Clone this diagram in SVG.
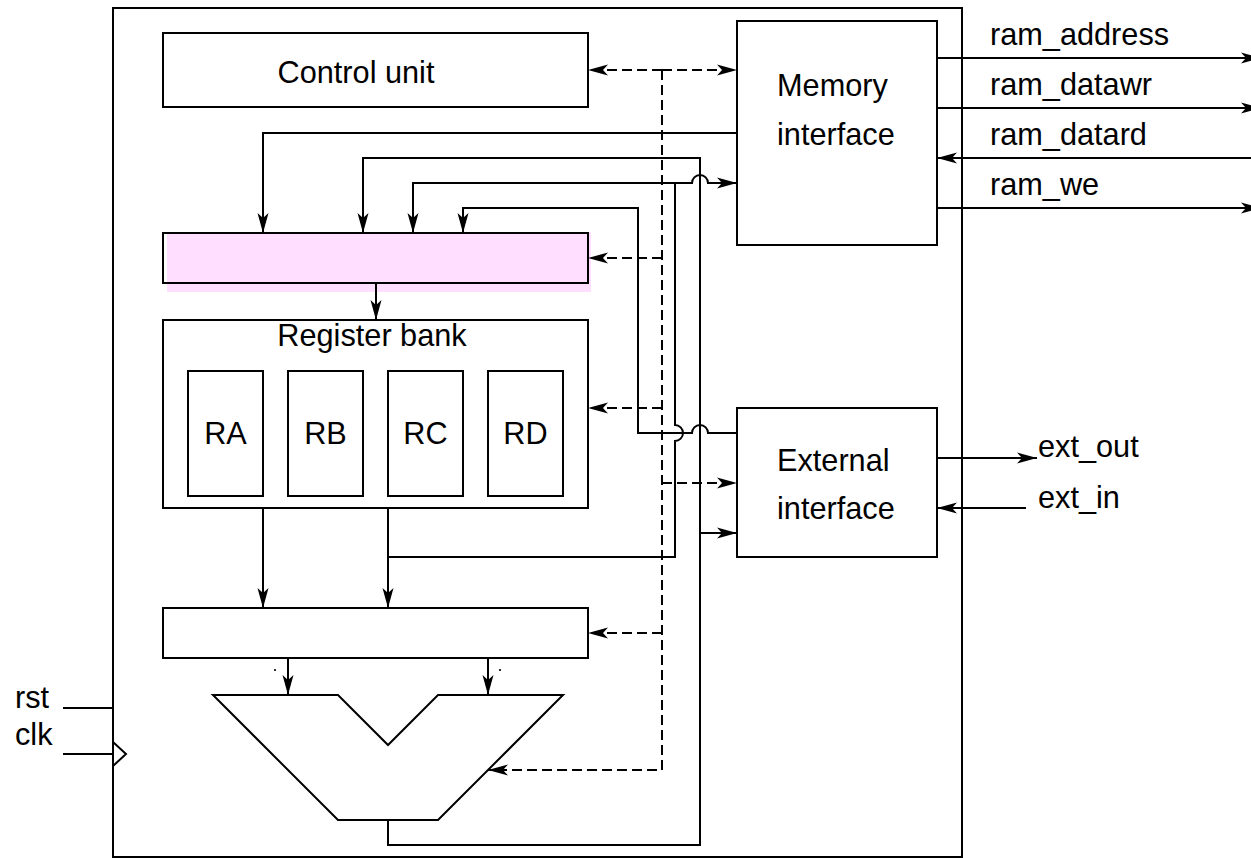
<svg xmlns="http://www.w3.org/2000/svg" width="1251" height="858" viewBox="0 0 1251 858">
<defs>
<marker id="ah" viewBox="0 0 20 12" refX="20" refY="6" markerWidth="20" markerHeight="12" orient="auto" markerUnits="userSpaceOnUse">
<path d="M0,0.5 L20,6 L0,11.5 L5,6 Z" fill="#000"/>
</marker>
</defs>
<style>
.box{fill:#fff;stroke:#000;stroke-width:2}
.nb{fill:none;stroke:#000;stroke-width:2}
.w{fill:none;stroke:#000;stroke-width:2}
.d{fill:none;stroke:#000;stroke-width:2;stroke-dasharray:10 5}
.a{marker-end:url(#ah)}
text{font-family:"Liberation Sans",Arial,Helvetica,sans-serif;font-size:30.7px;fill:#000}
.m{text-anchor:middle}
</style>
<rect width="1251" height="858" fill="#fff"/>

<g id="cpu"><rect class="box" x="113" y="8" width="849" height="849"/></g>

<g id="control-unit"><rect class="box" x="163" y="33" width="425" height="74"/><text class="m" x="356" y="83">Control unit</text></g>

<g id="memory-interface"><rect class="box" x="737" y="21" width="200" height="224"/><text x="777" y="96">Memory</text><text x="777" y="145">interface</text></g>

<g id="input-mux"><rect x="167" y="232" width="424" height="60" fill="#ffdeff"/><rect class="nb" x="163" y="233" width="425" height="50"/></g>

<g id="register-bank"><rect class="box" x="163" y="320" width="425" height="188"/><text class="m" x="372" y="346">Register bank</text>
<g id="RA"><rect class="box" x="188" y="371" width="75" height="125"/><text class="m" x="225.5" y="444">RA</text></g>
<g id="RB"><rect class="box" x="288" y="371" width="75" height="125"/><text class="m" x="325.5" y="444">RB</text></g>
<g id="RC"><rect class="box" x="388" y="371" width="75" height="125"/><text class="m" x="425.5" y="444">RC</text></g>
<g id="RD"><rect class="box" x="488" y="371" width="75" height="125"/><text class="m" x="525.5" y="444">RD</text></g>
</g>

<g id="alu-mux"><rect class="box" x="163" y="608" width="425" height="50"/></g>

<g id="alu"><polygon class="box" points="213,695 338,695 388,745 438,695 563,695 438,820 338,820 213,695"/><circle cx="275" cy="670" r="1.1" fill="#000"/><circle cx="500" cy="670" r="1.1" fill="#000"/></g>

<g id="external-interface"><rect class="box" x="737" y="408" width="200" height="149"/><text x="777" y="471">External</text><text x="777" y="519">interface</text></g>

<g id="ports">
<text x="990" y="45">ram_address</text>
<text x="990" y="95">ram_datawr</text>
<text x="990" y="145">ram_datard</text>
<text x="990" y="195">ram_we</text>
<text x="1038" y="457">ext_out</text>
<text x="1038" y="508">ext_in</text>
<text x="15" y="708">rst</text>
<text x="15" y="745">clk</text>
</g>

<g id="connectors">
<!-- solid data paths -->
<path class="w a" d="M737,133 H263 V233"/>
<path class="w a" d="M388,820 V845 H700 V158 H363 V233"/>
<path class="w a" d="M700,533 H737"/>
<path class="w a" d="M376,283 V320"/>
<path class="w a" d="M263,508 V608"/>
<path class="w a" d="M388,508 V608"/>
<path class="w" d="M388,557 H675 V441 A8,8 0 0 0 675,425 V183"/>
<path class="w a" d="M675,183 H413 V233"/>
<path class="w a" d="M675,183 H692 A8,8 0 0 1 708,183 H737"/>
<path class="w a" d="M737,433 H708 A8,8 0 0 0 692,433 H638 V208 H463 V233"/>
<path class="w a" d="M288,658 V695"/>
<path class="w a" d="M488,658 V695"/>
<!-- control (dashed) -->
<path class="d a" d="M662,70 H588"/>
<path class="d a" d="M662,70 H737"/>
<path class="d a" d="M662,70 V770 H488"/>
<path class="d a" d="M662,258 H588"/>
<path class="d a" d="M662,408 H588"/>
<path class="d a" d="M662,483 H737"/>
<path class="d a" d="M662,633 H588"/>
<!-- external ports -->
<path class="w a" d="M937,58 H1261"/>
<path class="w a" d="M937,108 H1261"/>
<path class="w a" d="M1262,158 H937"/>
<path class="w a" d="M937,208 H1261"/>
<path class="w a" d="M937,458 H1037"/>
<path class="w a" d="M1026,508 H937"/>
<path class="w" d="M63,708 H113"/>
<path class="w" d="M63,754 H113"/>
<polyline class="w" points="113,742 126,754 113,766"/>
</g>
</svg>
